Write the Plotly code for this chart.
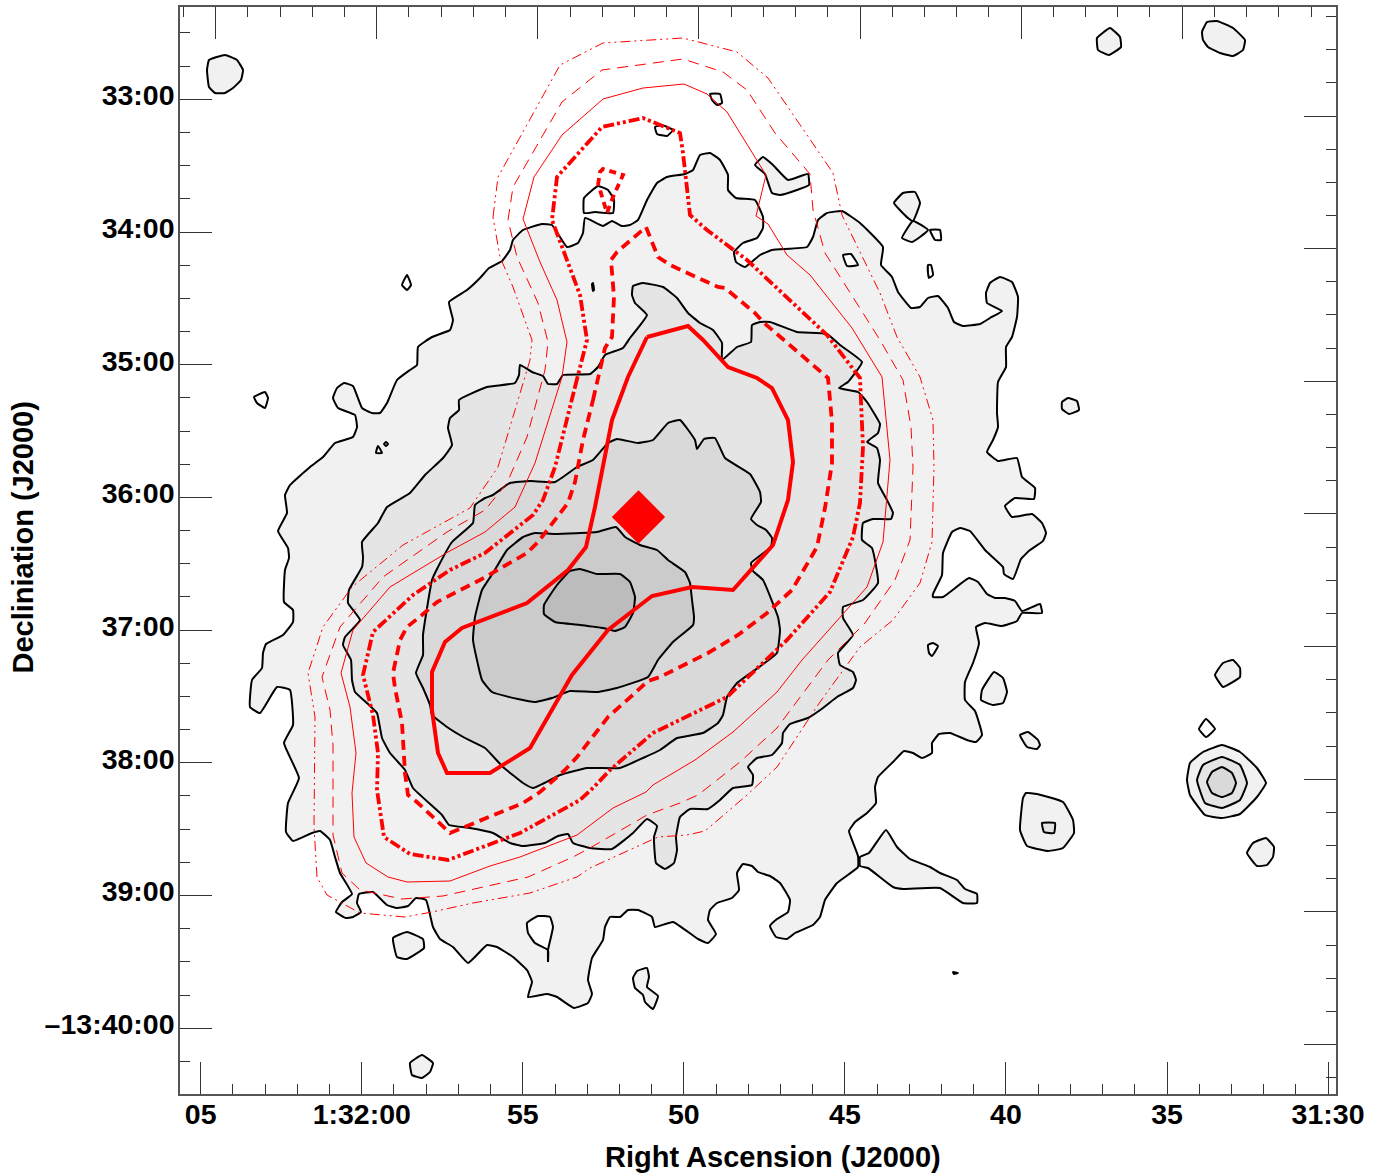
import plotly.graph_objects as go

# All map outlines below are in the chart's own grid units (one unit = 1/32.2 s RA, 1/132.7 min Dec).
X_TICKS = [200.7 + 161.05 * k for k in range(8)]
X_TICK_LABELS = ["05", "1:32:00", "55", "50", "45", "40", "35", "31:30"]
TOP_TICKS = [215.6 + 161.1 * k for k in range(7)]
Y_TICKS = [99.3 + 132.7 * k for k in range(8)]
Y_TICK_LABELS = ["33:00", "34:00", "35:00", "36:00", "37:00", "38:00", "39:00", "\u201313:40:00"]
RIGHT_TICKS = [116.0 + 132.65 * k for k in range(8)]

L1_MAIN = [(480,278),(489,268),(502,261),(510,250),(513,240),(523,230),(542,224),(552,225),(567,247),(578,243),(583,233),(585,218),(603,226),(612,221),(622,226),(630,225),(638,220),(647,200),(657,183),(667,177),(685,174),(693,170),(700,155),(710,153),(720,160),(728,175),(728,190),(736,198),(755,200),(763,217),(763,228),(757,238),(743,243),(734,252),(736,262),(745,267),(760,255),(772,250),(807,247),(813,237),(818,220),(827,213),(842,211),(860,223),(883,247),(881,265),(892,277),(898,292),(911,308),(920,307),(928,298),(938,296),(948,308),(954,322),(963,326),(980,324),(990,318),(1002,311),(987,303),(986,293),(990,283),(1000,277),(1012,282),(1018,297),(1017,317),(1012,337),(1006,347),(1006,367),(998,382),(997,413),(998,427),(993,440),(987,452),(998,461),(1017,458),(1022,477),(1035,488),(1034,499),(1015,498),(1005,506),(1012,517),(1032,514),(1042,523),(1046,533),(1043,541),(1030,550),(1021,559),(1013,579),(1004,574),(1003,567),(985,550),(970,531),(960,528),(952,532),(943,553),(942,575),(933,594),(933,597),(943,597),(969,578),(978,582),(987,594),(995,598),(1005,598),(1015,601),(1022,611),(1040,604),(1042,613),(1022,613),(1017,621),(1002,626),(985,623),(976,627),(979,643),(973,663),(965,682),(965,700),(975,711),(982,735),(976,742),(967,740),(950,733),(939,734),(932,743),(932,753),(922,758),(913,753),(904,751),(893,762),(878,777),(875,787),(876,803),(867,813),(855,822),(849,831),(852,840),(858,856),(858,867),(837,883),(825,900),(820,917),(813,925),(795,933),(787,939),(776,937),(770,926),(777,919),(788,912),(790,900),(780,883),(770,876),(758,872),(752,866),(743,864),(737,873),(739,890),(732,898),(717,903),(710,910),(708,920),(716,934),(708,943),(698,939),(673,922),(655,927),(652,917),(638,910),(628,910),(620,917),(610,917),(605,927),(603,940),(592,958),(588,980),(592,994),(588,1003),(574,1008),(557,997),(547,994),(528,997),(532,982),(527,970),(513,957),(497,947),(487,945),(468,963),(453,947),(440,939),(433,927),(426,900),(416,898),(408,906),(397,908),(387,905),(373,892),(359,894),(357,903),(361,912),(353,917),(346,918),(336,912),(342,902),(352,894),(340,873),(335,857),(330,840),(320,831),(312,833),(293,841),(286,832),(288,803),(299,778),(284,743),(293,725),(290,690),(277,687),(260,713),(250,707),(252,680),(262,668),(263,653),(266,644),(283,635),(293,622),(293,610),(284,602),(285,570),(289,558),(288,548),(278,531),(287,513),(285,495),(290,485),(310,467),(323,457),(335,443),(353,437),(357,427),(355,415),(338,408),(333,398),(337,388),(344,383),(353,386),(362,408),(372,413),(380,413),(387,403),(397,380),(410,370),(417,365),(418,347),(432,337),(450,330),(453,320),(449,302),(467,290)]
L1_SPUR = [(860,857),(869,853),(886,830),(897,847),(910,859),(930,867),(940,873),(957,880),(965,889),(977,894),(977,903),(963,903),(940,888),(903,889),(893,887),(868,868),(860,866)]
L1_ISLANDS = [
    [(207,70),(209,60),(225,55),(237,60),(243,70),(241,80),(233,88),(225,93),(215,93),(209,87)],
    [(1097,38),(1110,28),(1120,37),(1121,47),(1109,55),(1098,50)],
    [(1202,32),(1207,22),(1217,21),(1233,28),(1245,40),(1243,50),(1233,56),(1220,53),(1208,47),(1203,40)],
    [(755,165),(763,157),(773,165),(788,180),(808,174),(809,185),(797,190),(780,195),(772,193),(765,174)],
    [(894,203),(903,193),(915,192),(920,203),(913,221),(908,218)],
    [(913,221),(928,230),(920,237),(912,242),(902,238)],
    [(1062,402),(1068,398),(1077,401),(1079,410),(1069,414),(1062,409)],
    [(393,938),(407,932),(423,939),(424,948),(407,959),(397,957)],
    [(633,978),(637,971),(647,968),(649,977),(647,987),(658,996),(653,1009),(645,1002),(643,995),(635,988)],
    [(410,1063),(422,1055),(433,1063),(430,1072),(422,1078),(412,1075)],
    [(981,700),(982,690),(994,672),(1003,678),(1007,692),(1003,703),(993,705)],
    [(1020,735),(1028,732),(1038,740),(1040,745),(1037,749),(1027,747)],
    [(1026,793),(1037,794),(1063,802),(1073,820),(1074,833),(1063,848),(1048,851),(1027,846),(1020,830),(1023,798)],
    [(1215,675),(1223,663),(1233,660),(1240,668),(1240,677),(1223,687)],
    [(1187,780),(1190,763),(1203,752),(1222,745),(1240,752),(1257,768),(1266,783),(1257,797),(1240,814),(1222,818),(1205,815),(1190,795)],
    [(1247,853),(1253,843),(1266,838),(1274,847),(1273,857),(1267,865),(1257,866)],
]
HOLES = [
    [(407,275),(411,285),(407,290),(402,285)],
    [(710,94),(720,94),(722,103),(717,105),(712,100)],
    [(655,127),(662,125),(673,130),(667,136),(657,134)],
    [(584,213),(584,198),(598,186),(608,190),(614,200),(613,213),(595,212)],
    [(930,230),(940,230),(941,240),(935,240)],
    [(843,255),(851,254),(858,265),(847,266)],
    [(928,265),(931,265),(933,275),(929,278),(928,273)],
    [(254,397),(265,392),(268,398),(265,408),(257,403)],
    [(527,923),(538,916),(550,917),(553,927),(548,950),(548,962),(548,950),(535,943),(528,933)],
    [(928,645),(933,643),(938,646),(932,656),(929,653)],
    [(1199,729),(1206,719),(1215,729),(1206,737)],
    [(376,453),(378,446),(382,453)],
    [(384,444),(386,442),(388,444),(386,446)],
    [(592,284),(593,283),(594,290),(593,291)],
    [(953,972),(958,973),(954,974)],
]
L2_MAIN = [(352,680),(351,660),(343,645),(345,637),(360,620),(348,603),(349,590),(362,567),(363,557),(362,542),(378,523),(387,507),(410,493),(425,475),(443,458),(452,445),(448,428),(450,418),(459,410),(459,400),(487,387),(515,383),(519,375),(520,365),(532,372),(543,376),(548,384),(557,384),(563,375),(590,374),(598,367),(605,355),(623,348),(630,338),(647,315),(635,303),(632,295),(633,286),(643,283),(663,287),(677,298),(688,313),(700,323),(713,330),(722,343),(722,360),(737,347),(751,342),(752,325),(760,322),(770,322),(797,332),(827,334),(840,345),(862,362),(848,382),(839,388),(858,392),(867,402),(880,424),(878,433),(867,442),(877,448),(880,460),(878,483),(887,500),(893,513),(891,519),(873,519),(863,523),(862,540),(872,548),(878,583),(863,600),(843,607),(843,618),(853,635),(838,653),(840,665),(853,672),(856,680),(853,688),(837,697),(823,708),(808,718),(790,724),(783,733),(782,743),(772,755),(757,758),(748,767),(753,775),(752,785),(733,788),(720,800),(708,809),(690,809),(680,817),(676,837),(677,850),(674,863),(665,869),(656,863),(654,837),(657,826),(647,819),(633,833),(612,849),(590,848),(573,843),(568,834),(558,836),(545,843),(523,846),(510,843),(493,833),(470,828),(449,825),(442,815),(413,788),(405,770),(390,753),(382,738),(377,713),(368,704),(355,692)]
L2_ISLANDS = [
    [(1042,823),(1055,823),(1054,833),(1044,832)],
    [(1197,780),(1203,765),(1222,757),(1240,765),(1247,783),(1240,800),(1222,808),(1205,803)],
]
L3_MAIN = [(416,673),(423,655),(423,635),(432,580),(438,567),(452,542),(473,523),(475,505),(485,498),(493,495),(510,483),(530,481),(555,482),(577,467),(593,460),(608,443),(617,439),(638,443),(653,440),(668,423),(680,420),(695,440),(697,449),(704,439),(715,438),(725,458),(750,474),(760,492),(761,502),(751,519),(757,525),(766,530),(772,538),(771,547),(751,563),(753,571),(763,580),(778,617),(780,630),(777,653),(762,665),(737,683),(727,697),(723,715),(718,723),(703,733),(677,738),(660,750),(643,758),(620,768),(587,768),(560,775),(533,788),(523,783),(503,767),(485,748),(465,738),(447,727),(432,715),(430,705),(423,688)]
L3_ISLANDS = [
    [(1207,782),(1212,772),(1222,767),(1232,773),(1236,783),(1232,793),(1222,797),(1212,793)],
]
L4_MAIN = [(482,680),(473,640),(475,617),(482,590),(493,573),(507,550),(523,537),(535,533),(555,534),(597,532),(616,527),(625,537),(640,545),(657,550),(668,560),(685,572),(690,583),(692,600),(694,617),(693,625),(673,642),(658,660),(648,677),(617,688),(597,692),(570,691),(552,698),(535,702),(518,699),(492,692)]
L5_MAIN = [(580,569),(570,571),(557,585),(544,605),(544,614),(555,622),(580,625),(603,628),(615,631),(625,627),(633,613),(635,597),(630,582),(620,574),(597,574)]

RED_1 = [(647,337),(688,326),(703,340),(728,367),(757,378),(772,388),(788,420),(793,462),(788,500),(773,545),(733,590),(692,587),(652,596),(630,613),(608,630),(572,675),(530,748),(490,773),(447,773),(438,753),(432,710),(432,672),(445,642),(462,628),(527,603),(568,570),(586,547),(595,507),(607,443),(612,420),(628,377)]
RED_2 = [(593,400),(597,382),(605,348),(612,337),(614,297),(611,260),(617,252),(646,227),(658,257),(670,265),(718,287),(725,288),(755,313),(763,322),(828,378),(832,422),(832,463),(825,508),(817,547),(792,590),(767,613),(738,635),(708,653),(660,677),(648,681),(635,693),(608,717),(598,730),(577,757),(565,770),(540,792),(523,803),(508,809),(473,823),(450,833),(418,803),(408,795),(405,773),(402,723),(395,688),(393,673),(400,640),(407,627),(422,615),(437,602),(480,580),(497,570),(527,553),(538,542),(560,513),(568,503),(575,482),(583,440)]
RED_2B = [(598,185),(600,172),(603,169),(623,175),(613,197),(607,213),(600,190)]
RED_3 = [(575,387),(587,340),(580,295),(563,250),(552,220),(557,177),(602,127),(643,118),(680,133),(683,153),(690,215),(707,230),(747,260),(827,335),(860,378),(863,447),(860,503),(853,537),(830,592),(787,640),(745,680),(727,697),(653,733),(610,770),(593,788),(580,800),(520,833),(507,838),(448,860),(410,854),(384,837),(377,790),(378,753),(373,715),(363,675),(373,632),(413,595),(450,570),(485,553),(533,515),(543,500),(555,467),(565,427)]
RED_4 = [(523,219),(534,177),(562,135),(603,99),(643,88),(684,84),(707,94),(727,112),(766,175),(756,216),(768,224),(787,255),(810,275),(852,328),(882,377),(890,460),(883,542),(867,587),(802,660),(777,692),(733,732),(695,760),(653,785),(646,792),(613,808),(577,835),(520,857),(490,866),(450,881),(407,882),(388,877),(366,863),(354,837),(352,793),(356,753),(350,707),(341,673),(353,630),(390,587),(448,552),(485,532),(515,507),(535,463),(562,377),(567,342),(557,300),(540,262)]
RED_5 = [(508,220),(513,187),(562,102),(602,70),(683,59),(723,72),(747,90),(775,133),(810,174),(813,210),(825,253),(880,340),(903,380),(911,427),(913,467),(910,540),(895,580),(865,623),(828,660),(777,728),(740,762),(698,795),(680,803),(647,815),(590,848),(573,857),(528,877),(480,888),(443,896),(402,899),(360,890),(342,873),(333,835),(333,745),(330,710),(322,677),(340,627),(383,577),(447,532),(485,510),(507,483),(527,437),(545,370),(548,342),(538,303),(517,257)]
RED_6 = [(493,217),(498,177),(560,65),(603,43),(683,38),(737,52),(768,78),(833,173),(842,215),(880,293),(897,337),(920,377),(933,420),(934,467),(932,542),(920,583),(893,620),(860,647),(820,702),(777,767),(747,795),(705,831),(687,835),(658,837),(590,868),(577,877),(530,893),(473,903),(432,912),(405,917),(360,913),(327,895),(317,877),(314,827),(315,717),(308,673),(323,627),(352,587),(403,545),(470,508),(498,467),(530,360),(532,340),(513,287),(500,257)]
CENTRE_X = [638.5]
CENTRE_Y = [517]

FILL_1, FILL_2, FILL_3, FILL_4, FILL_5 = "#f1f1f1", "#e5e5e5", "#d9d9d9", "#cbcbcb", "#bcbcbc"
RED = "#ff0000"
FRAME = "#555555"

fig = go.Figure()


def closed(points):
    pts = list(points) + [points[0]]
    return [p[0] for p in pts], [p[1] for p in pts]


def add_filled(points, fill, width=2.0):
    x, y = closed(points)
    fig.add_trace(go.Scatter(x=x, y=y, mode="lines", fill="toself", fillcolor=fill,
                             line=dict(color="#000000", width=width, shape="spline", smoothing=0.35),
                             hoverinfo="skip", showlegend=False))


def add_red(points, width, dash):
    x, y = closed(points)
    fig.add_trace(go.Scatter(x=x, y=y, mode="lines", line=dict(color=RED, width=width, dash=dash),
                             hoverinfo="skip", showlegend=False))


add_filled(L1_MAIN, FILL_1)
add_filled(L1_SPUR, FILL_1)
for poly in L1_ISLANDS:
    add_filled(poly, FILL_1)
for poly in HOLES:
    add_filled(poly, "#ffffff")
add_filled(L2_MAIN, FILL_2)
for poly in L2_ISLANDS:
    add_filled(poly, FILL_2)
add_filled(L3_MAIN, FILL_3)
for poly in L3_ISLANDS:
    add_filled(poly, FILL_3)
add_filled(L4_MAIN, FILL_4)
add_filled(L5_MAIN, FILL_5)

add_red(RED_6, 1.0, "10px,4px,2px,4px,2px,4px")
add_red(RED_5, 1.0, "11px,7px")
add_red(RED_4, 1.0, "solid")
add_red(RED_3, 3.8, "11px,3px,3px,3px,3px,3px")
add_red(RED_2, 3.8, "10px,6px")
add_red(RED_2B, 3.8, "7px,5px")
add_red(RED_1, 4, "solid")

fig.add_trace(go.Scatter(x=CENTRE_X, y=CENTRE_Y, mode="markers",
                         marker=dict(symbol="diamond", size=41, color=RED, line=dict(width=0)),
                         hoverinfo="skip", showlegend=False))
fig.add_trace(go.Scatter(x=CENTRE_X, y=CENTRE_Y, xaxis="x2", yaxis="y2", mode="markers",
                         marker=dict(opacity=0), hoverinfo="skip", showlegend=False))

XR = [180, 1336]
YR = [1094, 7]
FONT = dict(family="Liberation Sans", size=28.5, color="#000000")


def minors(majors, step, low, high):
    out = []
    k = -10
    while k < 60:
        v = majors[0] + k * step
        if low < v < high and all(abs(v - m) > 1 for m in majors):
            out.append(v)
        k += 1
    return out


def axis(ticks, labels, rng, step, low, high, **kw):
    return dict(range=rng, tickmode="array", tickvals=ticks, ticktext=labels, ticks="inside", ticklen=32,
                tickwidth=1, tickcolor="#333333", showgrid=False, zeroline=False, showline=True,
                linecolor=FRAME, linewidth=1.5,
                minor=dict(tickmode="array", tickvals=minors(ticks, step, low, high), ticks="inside",
                           ticklen=10, tickwidth=1, tickcolor="#333333", showgrid=False), **kw)


fig.update_layout(
    width=1396, height=1175, autosize=False, plot_bgcolor="#ffffff", paper_bgcolor="#ffffff",
    margin=dict(l=180, r=60, t=7, b=81), showlegend=False, font=FONT,
    xaxis=axis(X_TICKS, [f"<b>{t}</b>" for t in X_TICK_LABELS], XR, 161.05 / 5, 180, 1336, side="bottom", anchor="y",
               ticklabelstandoff=-6),
    yaxis=axis(Y_TICKS, [f"<b>{t}</b>" for t in Y_TICK_LABELS], YR, 132.7 / 4, 7, 1094, side="left", anchor="x",
               ticklabelstandoff=-2, ticklabelshift=4),
    xaxis2=axis(TOP_TICKS, [""] * len(TOP_TICKS), XR, 161.1 / 5, 180, 1336, side="top", anchor="y2",
                overlaying="x", showticklabels=False),
    yaxis2=axis(RIGHT_TICKS, [""] * len(RIGHT_TICKS), YR, 132.65 / 4, 7, 1094, side="right", anchor="x2",
                overlaying="y", showticklabels=False),
    annotations=[
        dict(text="<b>Right Ascension (J2000)</b>", xref="paper", yref="paper", x=(773 - 180) / 1156, y=-(1157 - 1094) / 1087,
             xanchor="center", yanchor="middle", showarrow=False, font=dict(size=29)),
        dict(text="<b>Decliniation (J2000)</b>", xref="paper", yref="paper", x=(22 - 180) / 1156, y=(1094 - 537.5) / 1087,
             xanchor="center", yanchor="middle", showarrow=False, textangle=-90, font=dict(size=29)),
    ],
)

fig.write_html("out.html", config={"displayModeBar": False},
               post_script="document.body.style.margin='0';document.body.style.overflow='hidden';")
